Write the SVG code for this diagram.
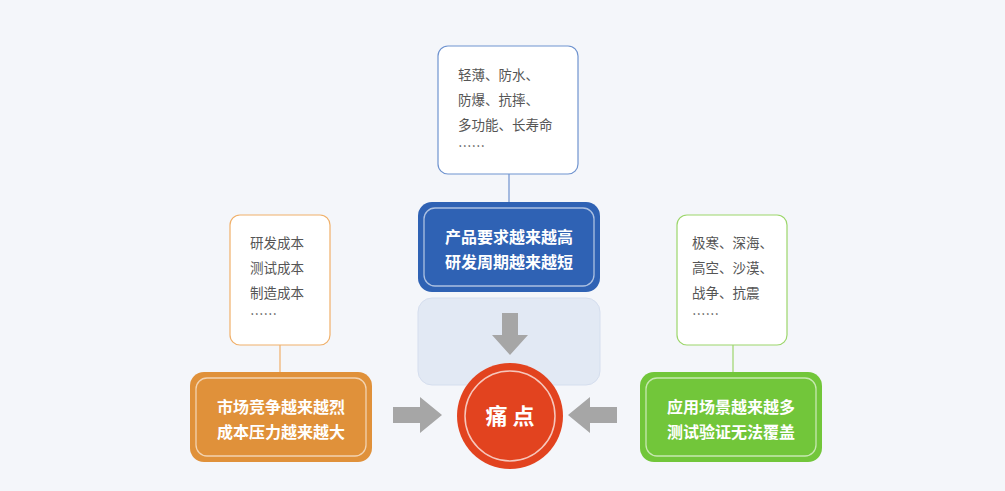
<svg xmlns="http://www.w3.org/2000/svg" width="1005" height="491" viewBox="0 0 1005 491">
<style>
text{font-family:"Noto Sans CJK SC","Noto Sans",sans-serif}
.note{fill:#fff;stroke-width:1.2}
.nt{font-size:13.5px;fill:#555}
.bt{font-size:16px;fill:#fff;font-weight:bold;text-anchor:middle}
.in{fill:none;stroke:#fff;stroke-opacity:.6;stroke-width:1.3}
.ar{fill:#a6a6a6}
</style>
<rect width="1005" height="491" fill="#f4f6fa"/>
<g id="reflection"><rect x="418" y="298" width="182" height="87" rx="14" fill="#e2e9f4" stroke="#d5deee"/></g>
<g id="connectors" stroke-width="1.2">
<line x1="509" y1="174" x2="509" y2="203" stroke="#6f93cf"/>
<line x1="280" y1="345" x2="280" y2="373" stroke="#f0b06a"/>
<line x1="733" y1="345" x2="733" y2="373" stroke="#9cd66b"/>
<polygon class="ar" points="502,313 518,313 518,335 528,335 510,355 492,335 502,335"/>
<polygon class="ar" points="393,407 420,407 420,397 442,415 420,433 420,423 393,423"/>
<polygon class="ar" points="617,407 590,407 590,397 568,415 590,433 590,423 617,423"/>
</g>
<g id="note-top"><rect class="note" x="438" y="46" width="140" height="128" rx="10" stroke="#6f93cf"/>
<text class="nt" x="458" y="80">轻薄、防水、</text><text class="nt" x="458" y="105">防爆、抗摔、</text><text class="nt" x="458" y="130">多功能、长寿命</text><text class="nt" x="458" y="151">……</text></g>
<g id="note-left"><rect class="note" x="230" y="215" width="100" height="130" rx="10" stroke="#f0b06a"/>
<text class="nt" x="250" y="248">研发成本</text><text class="nt" x="250" y="273">测试成本</text><text class="nt" x="250" y="298">制造成本</text><text class="nt" x="250" y="319">……</text></g>
<g id="note-right"><rect class="note" x="677" y="215" width="110" height="130" rx="10" stroke="#9cd66b"/>
<text class="nt" x="692" y="248">极寒、深海、</text><text class="nt" x="692" y="273">高空、沙漠、</text><text class="nt" x="692" y="298">战争、抗震</text><text class="nt" x="692" y="319">……</text></g>
<g id="blue"><rect x="418" y="202" width="182" height="90" rx="14" fill="#2f62b4"/><rect class="in" x="424" y="208" width="170" height="78" rx="11"/>
<text class="bt" x="509" y="243">产品要求越来越高</text><text class="bt" x="509" y="268">研发周期越来越短</text></g>
<g id="orange"><rect x="190" y="372" width="182" height="90" rx="14" fill="#e0913a"/><rect class="in" x="196" y="378" width="170" height="78" rx="11"/>
<text class="bt" x="281" y="413">市场竞争越来越烈</text><text class="bt" x="281" y="438">成本压力越来越大</text></g>
<g id="green"><rect x="640" y="372" width="182" height="90" rx="14" fill="#72c63a"/><rect class="in" x="646" y="378" width="170" height="78" rx="11"/>
<text class="bt" x="731" y="413">应用场景越来越多</text><text class="bt" x="731" y="438">测试验证无法覆盖</text></g>
<g id="center"><circle cx="510" cy="416" r="53" fill="#e2431f"/><circle cx="510" cy="416" r="45" fill="none" stroke="#fff" stroke-opacity=".7" stroke-width="1.5"/>
<text x="510" y="424" font-size="22" font-weight="bold" fill="#fff" text-anchor="middle">痛 点</text></g>
</svg>
